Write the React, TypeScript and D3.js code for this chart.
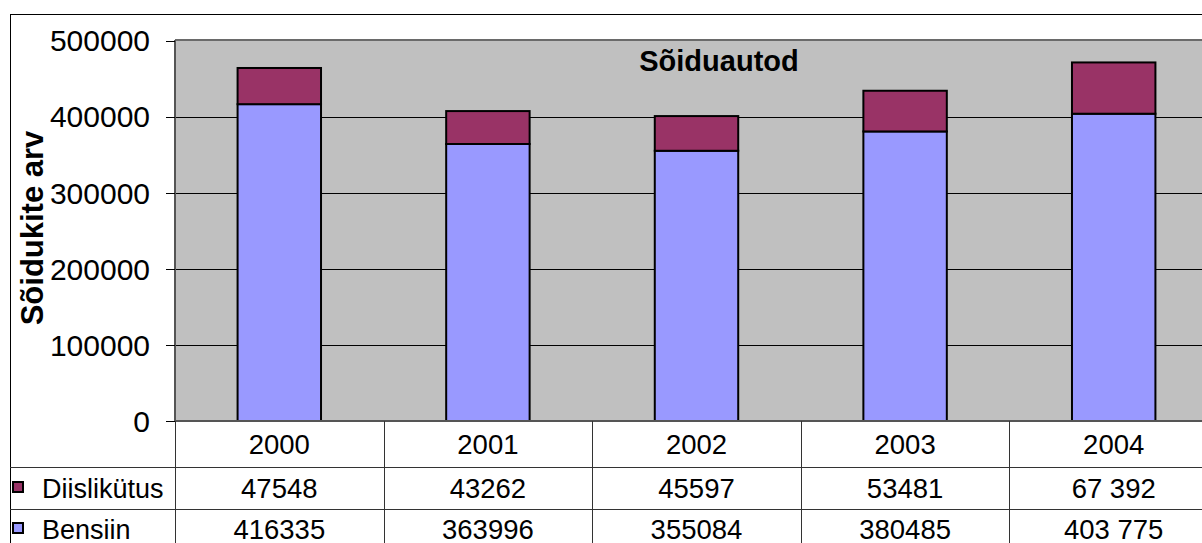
import React from "react";
import * as d3 from "d3";

const years = ["2000", "2001", "2002", "2003", "2004"];
const diesel = [47548, 43262, 45597, 53481, 67392];
const petrol = [416335, 363996, 355084, 380485, 403775];
const dieselLabels = ["47548", "43262", "45597", "53481", "67 392"];
const petrolLabels = ["416335", "363996", "355084", "380485", "403 775"];
const yTicks = [0, 100000, 200000, 300000, 400000, 500000];
const seriesNames = ["Diislikütus", "Bensiin"];
const title = "Sõiduautod";
const yTitle = "Sõidukite arv";

const W = 1202;
const H = 543;
const plotL = 175;
const plotT = 40;
const plotB = 421;
const colW = 208.6;
const plotR = plotL + colW * years.length;
const rowDiesel = [467, 509];
const rowPetrol = [509, 555];
const font = "'Liberation Sans', Arial, sans-serif";
const C_PETROL = "#9999FF";
const C_DIESEL = "#993366";

export default function App() {
  const x = d3.scaleBand<string>().domain(years).range([plotL, plotR]).paddingInner(0.6).paddingOuter(0.3);
  const xCol = d3.scaleBand<string>().domain(years).range([plotL, plotR]);
  const y = d3.scaleLinear().domain([0, 500000]).range([plotB, plotT + 0.5]);
  const stack = d3.stack<number>().keys(["p", "d"]).value((i, k) => (k === "p" ? petrol[i] : diesel[i]));
  const series = stack(years.map((_, i) => i));
  const colors = [C_PETROL, C_DIESEL];

  return (
    <svg width={W} height={H} style={{ position: "absolute", left: 0, top: 0, background: "#fff" }} fontFamily={font}>
      {/* outer frame */}
      <rect x={10.5} y={14.5} width={W + 20} height={H + 20} fill="none" stroke="#000" strokeWidth={1} />
      {/* plot bg */}
      <rect x={plotL} y={plotT} width={plotR - plotL} height={plotB - plotT} fill="#C0C0C0" />
      {/* gridlines */}
      {yTicks.slice(1, -1).map((t) => (
        <line key={t} x1={plotL} x2={plotR} y1={Math.round(y(t)) + 0.5} y2={Math.round(y(t)) + 0.5} stroke="#000" strokeWidth={1} />
      ))}
      {/* plot borders */}
      <line x1={plotL} x2={plotR} y1={plotT} y2={plotT} stroke="#6a6a6a" strokeWidth={2} />
      <line x1={plotL} x2={plotL} y1={plotT} y2={plotB} stroke="#555" strokeWidth={2} />
      {/* bars */}
      {series.map((s, si) =>
        s.map((d, i) => (
          <rect
            key={si + "-" + i}
            x={x(years[i])!}
            y={y(d[1])}
            width={x.bandwidth()}
            height={y(d[0]) - y(d[1])}
            fill={colors[si]}
            stroke="#000"
            strokeWidth={2}
          />
        ))
      )}
      {/* ticks and labels */}
      {yTicks.map((t) => (
        <g key={t}>
          <line x1={166} x2={plotL} y1={Math.round(y(t)) + 0.5} y2={Math.round(y(t)) + 0.5} stroke="#000" strokeWidth={1} />
          <text x={150} y={y(t)} dy="0.36em" textAnchor="end" fontSize={30} fill="#000">
            {t}
          </text>
        </g>
      ))}
      <line x1={plotL} x2={plotR} y1={plotB} y2={plotB} stroke="#555" strokeWidth={2} />
      {/* title */}
      <text x={719} y={71} textAnchor="middle" fontSize={29} fontWeight="bold" fill="#000">
        {title}
      </text>
      <text transform={`translate(43,228) rotate(-90)`} textAnchor="middle" fontSize={31} fontWeight="bold" fill="#000">
        {yTitle}
      </text>
      {/* data table */}
      <line x1={10} x2={plotR} y1={rowDiesel[0] + 0.5} y2={rowDiesel[0] + 0.5} stroke="#333" strokeWidth={1} />
      <line x1={10} x2={plotR} y1={rowPetrol[0] + 0.5} y2={rowPetrol[0] + 0.5} stroke="#333" strokeWidth={1} />
      {years.map((yr) => (
        <line key={"v" + yr} x1={Math.round(xCol(yr)!) + 0.5} x2={Math.round(xCol(yr)!) + 0.5} y1={plotB} y2={H} stroke="#333" strokeWidth={1} />
      ))}
      {years.map((yr, i) => {
        const cx = xCol(yr)! + xCol.bandwidth() / 2;
        return (
          <g key={"t" + yr} fontSize={27.5} textAnchor="middle" fill="#000">
            <text x={cx} y={(plotB + rowDiesel[0]) / 2} dy="0.36em">{yr}</text>
            <text x={cx} y={(rowDiesel[0] + rowDiesel[1]) / 2} dy="0.36em">{dieselLabels[i]}</text>
            <text x={cx} y={529.5} dy="0.36em">{petrolLabels[i]}</text>
          </g>
        );
      })}
      {/* legend keys */}
      <rect x={13} y={482} width={10} height={10} fill={C_DIESEL} stroke="#000" strokeWidth={2} />
      <text x={42} y={488} dy="0.36em" fontSize={27} fill="#000">{seriesNames[0]}</text>
      <rect x={13} y={523} width={10} height={10} fill={C_PETROL} stroke="#000" strokeWidth={2} />
      <text x={42} y={529.5} dy="0.36em" fontSize={27} fill="#000">{seriesNames[1]}</text>
    </svg>
  );
}
